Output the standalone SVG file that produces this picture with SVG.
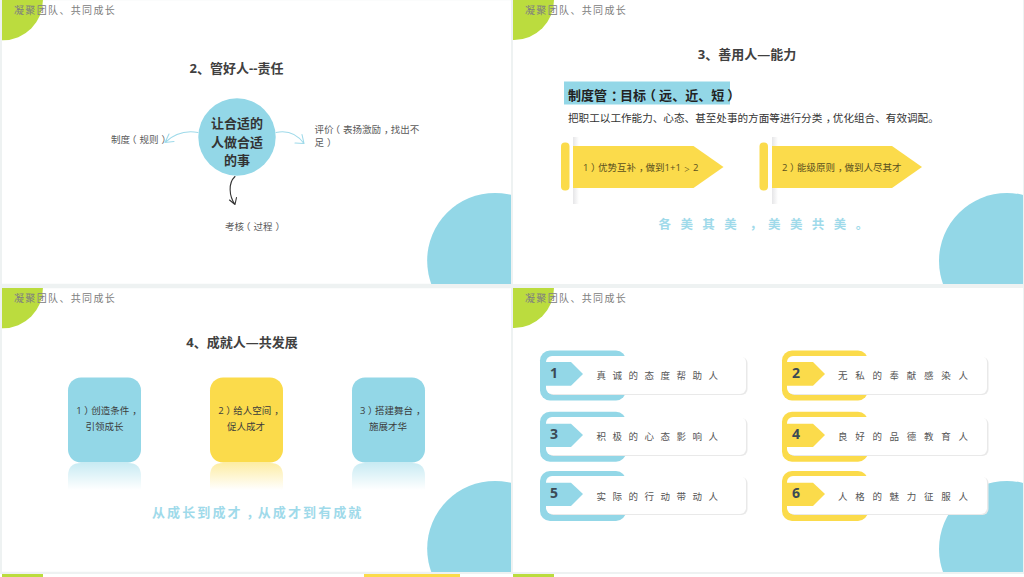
<svg xmlns="http://www.w3.org/2000/svg" xmlns:xlink="http://www.w3.org/1999/xlink" width="1024" height="577" viewBox="0 0 1024 577">
<style>
text{font-family:"Open Sans","Noto Sans CJK SC",sans-serif}
.hd{font-size:10px;letter-spacing:1.35px;fill:#808080}
.ti{font-size:13px;font-weight:700;fill:#404040;text-anchor:middle}
.lb{font-size:9.5px;fill:#595959}
.bs{font-size:9.5px;fill:#3c3c3c}
.bt{font-size:9.5px;fill:#3c3c3c;text-anchor:middle}
.ct{font-size:13px;font-weight:700;fill:#333;text-anchor:middle}
.ar{font-size:9.5px;fill:#5a5020}
.acc{font-weight:700;fill:#9fdaea}
.num{font-size:14px;font-weight:700;fill:#3b4a55}
.rt{font-size:9.5px;fill:#555}
.bl{fill:#93d7e7}.ye{fill:#fbdb4b}.gr{fill:#bbdc3e}
.sl{fill:#fff}
.sh{fill:#e9e9e9}.wh{fill:#fff}
.ln{fill:none;stroke-width:1.1;stroke-linecap:round;stroke-linejoin:round}
</style>
<defs>
<symbol id="deco" viewBox="0 0 510 284" width="510" height="284">
<rect class="sl" width="510" height="284"/>
<circle class="gr" cx="1" cy="0" r="40"/>
<circle class="bl" cx="494" cy="261" r="68"/>
</symbol>
<linearGradient id="strip" x1="0" x2="1" y1="0" y2="0"><stop offset="0" stop-color="#e6e6e8"/><stop offset="1" stop-color="#fff"/></linearGradient>
<linearGradient id="rb" x1="0" x2="0" y1="0" y2="1"><stop offset="0" stop-color="#93d7e7" stop-opacity=".5"/><stop offset="1" stop-color="#93d7e7" stop-opacity="0"/></linearGradient>
<linearGradient id="ry" x1="0" x2="0" y1="0" y2="1"><stop offset="0" stop-color="#fbdb4b" stop-opacity=".5"/><stop offset="1" stop-color="#fbdb4b" stop-opacity="0"/></linearGradient>
</defs>
<rect width="1024" height="577" fill="#fff"/>
<rect y="0" width="1024" height="574" fill="#eef2f2"/>
<rect x="2" y="574" width="41" height="3" class="gr"/>
<rect x="364" y="574" width="96" height="3" class="ye"/>
<rect x="513" y="574" width="41" height="3" class="gr"/>
<use xlink:href="#deco" href="#deco" x="2" y="0" width="509" height="284"/>
<use xlink:href="#deco" href="#deco" x="513" y="0" width="510" height="284"/>
<use xlink:href="#deco" href="#deco" x="2" y="288" width="509" height="284"/>
<use xlink:href="#deco" href="#deco" x="513" y="288" width="510" height="284"/>

<g id="headers">
<text class="hd" x="14" y="13.500">凝聚团队、共同成长</text>
<text class="hd" x="525" y="13.500">凝聚团队、共同成长</text>
<text class="hd" x="14" y="301.500">凝聚团队、共同成长</text>
<text class="hd" x="525" y="301.500">凝聚团队、共同成长</text>
</g>

<g id="slide1">
<text class="ti" x="236.500" y="72.500">2、管好人--责任</text>
<g id="hub"><circle class="bl" cx="237" cy="137" r="38.700"/>
<text class="ct" x="237" y="128">让合适的</text><text class="ct" x="237" y="146.500">人做合适</text><text class="ct" x="237" y="164.500">的事</text></g>
<g id="n-zhidu"><text class="lb" x="111" y="142.500" dx="0 0 -3 3 0 3">制度（规则）</text></g>
<g id="n-pingjia"><text class="lb" x="314.500" y="132.500" dx="0 0 -3 3 0 0 0 3 -3">评价（表扬激励，找出不</text><text class="lb" x="314.500" y="146" dx="0 3">足）</text></g>
<g id="n-kaohe"><text class="lb" x="225" y="230" dx="0 0 -3 3 0 3">考核（过程）</text></g>
</g>
<g id="connectors">
<path class="ln" stroke="#9fdaea" d="M198 132.500C184 130 174 134 165 142.500M165 142.500L174 141.500M165 142.500L169 134"/>
<path class="ln" stroke="#9fdaea" d="M276 132.500C288 130 297 134 304 143.500M304 143.500L295 143M304 143.500L302 134.500"/>
<path class="ln" stroke="#333" d="M235 176.500C228 183 229 196 235 204.500M235 204.500L229.500 200M235 204.500L236.500 197.500"/>
</g>

<g id="slide2">
<text class="ti" x="747" y="59">3、善用人—能力</text>
<rect class="bl" x="564" y="81.500" width="166" height="23"/>
<text x="568" y="99.500" font-size="13" font-weight="700" fill="#222" dx="0 0 0 4 -4 0 -3 3 0 0 0 0 3">制度管：目标（远、近、短）</text>
<text x="568" y="122" font-size="10.600" fill="#333" dx="0 0 0 0 0 0 0 0 0 0 0 0 0 0 0 0 0 0 0 0 0 0 0 0 3.500 -3.500">把职工以工作能力、心态、甚至处事的方面等进行分类，优化组合、有效调配。</text>
<g id="arrow1"><rect class="ye" x="561" y="142.500" width="8.500" height="48" rx="4"/>
<rect x="573" y="137" width="6" height="67" fill="url(#strip)"/>
<polygon class="ye" points="573,146 693.500,146 723.500,167 693.500,188 573,188"/>
<text class="ar" x="583" y="170.500" dx="0 2.500 -2.500 0 0 0 3 -3 0 0 0 0 3 3">1）优势互补，做到1+1<tspan font-size="6">＞</tspan>2</text></g>
<g id="arrow2"><rect class="ye" x="759.500" y="142.500" width="8.500" height="48" rx="4"/>
<rect x="772" y="137" width="6" height="67" fill="url(#strip)"/>
<polygon class="ye" points="772,146 892,146 922,167 892,188 772,188"/>
<text class="ar" x="782" y="170.500" dx="0 2.500 -2.500 0 0 0 3 -3">2）能级原则，做到人尽其才</text></g>
<text class="acc" x="658.500" y="229" font-size="12.500" letter-spacing="9.400" dx="0 0 0 0 3.500 -3.500">各美其美，美美共美。</text>
</g>

<g id="slide3">
<text class="ti" x="242" y="347">4、成就人—共发展</text>
<g id="box1"><rect class="bl" x="68" y="377.500" width="73" height="85" rx="13"/>
<path d="M68 490V476Q68 463 81 463H128Q141 463 141 476V490Z" fill="url(#rb)"/>
<text class="bs" x="76.300" y="413.500" dx="0 2.500 -2.500 0 0 0 3">1）创造条件，</text><text class="bt" x="104.500" y="429.500">引领成长</text></g>
<g id="box2"><rect class="ye" x="210" y="377.500" width="73" height="85" rx="13"/>
<path d="M210 490V476Q210 463 223 463H270Q283 463 283 476V490Z" fill="url(#ry)"/>
<text class="bs" x="218.300" y="413.500" dx="0 2.500 -2.500 0 0 0 3">2）给人空间，</text><text class="bt" x="246" y="429.500">促人成才</text></g>
<g id="box3"><rect class="bl" x="352" y="377.500" width="73" height="85" rx="13"/>
<path d="M352 490V476Q352 463 365 463H412Q425 463 425 476V490Z" fill="url(#rb)"/>
<text class="bs" x="360" y="413.500" dx="0 2.500 -2.500 0 0 0 3">3）搭建舞台，</text><text class="bt" x="388" y="429.500">施展才华</text></g>
<text class="acc" x="152" y="517" font-size="13" letter-spacing="2.100" dx="0 0 0 0 0 0 3.500 -3.500">从成长到成才，从成才到有成就</text>
</g>

<g id="slide4">
<g id="item1"><rect class="bl" x="540" y="350.500" width="86" height="50" rx="10"/><rect class="sh" x="547.500" y="357" width="200" height="38" rx="6"/><rect class="wh" x="546" y="356" width="200" height="38" rx="6"/>
<polygon class="bl" points="541,362 571,362 583,374 571,385.700 541,385.700"/><text class="num" x="550" y="378">1</text>
<text class="rt" x="596.500" y="379" letter-spacing="6.500">真诚的态度帮助人</text></g>
<g id="item2"><rect class="ye" x="782" y="350.500" width="86" height="50" rx="10"/><rect class="sh" x="788.500" y="357" width="200" height="38" rx="6"/><rect class="wh" x="787" y="356" width="200" height="38" rx="6"/>
<polygon class="ye" points="783,362 813,362 825,374 813,385.700 783,385.700"/><text class="num" x="792" y="378">2</text>
<text class="rt" x="838" y="379" letter-spacing="7.700">无私的奉献感染人</text></g>
<g id="item3"><rect class="bl" x="540" y="411.700" width="86" height="50" rx="10"/><rect class="sh" x="547.500" y="418" width="200" height="38" rx="6"/><rect class="wh" x="546" y="417" width="200" height="38" rx="6"/>
<polygon class="bl" points="541,423.700 571,423.700 583,435 571,447 541,447"/><text class="num" x="550" y="439">3</text>
<text class="rt" x="596.500" y="440" letter-spacing="6.500">积极的心态影响人</text></g>
<g id="item4"><rect class="ye" x="782" y="411.700" width="86" height="50" rx="10"/><rect class="sh" x="788.500" y="418" width="200" height="38" rx="6"/><rect class="wh" x="787" y="417" width="200" height="38" rx="6"/>
<polygon class="ye" points="783,423.700 813,423.700 825,435 813,447 783,447"/><text class="num" x="792" y="439">4</text>
<text class="rt" x="838" y="440" letter-spacing="7.700">良好的品德教育人</text></g>
<g id="item5"><rect class="bl" x="540" y="471" width="86" height="50" rx="10"/><rect class="sh" x="547.500" y="477" width="200" height="38" rx="6"/><rect class="wh" x="546" y="476" width="200" height="38" rx="6"/>
<polygon class="bl" points="541,482.700 571,482.700 583,494 571,506 541,506"/><text class="num" x="550" y="498">5</text>
<text class="rt" x="596.500" y="499.500" letter-spacing="6.500">实际的行动带动人</text></g>
<g id="item6"><rect class="ye" x="782" y="471" width="86" height="50" rx="10"/><rect class="sh" x="788.500" y="477" width="200" height="38" rx="6"/><rect class="wh" x="787" y="476" width="200" height="38" rx="6"/>
<polygon class="ye" points="783,482.700 813,482.700 825,494 813,506 783,506"/><text class="num" x="792" y="498">6</text>
<text class="rt" x="838" y="499.500" letter-spacing="7.700">人格的魅力征服人</text></g>
</g>
</svg>
